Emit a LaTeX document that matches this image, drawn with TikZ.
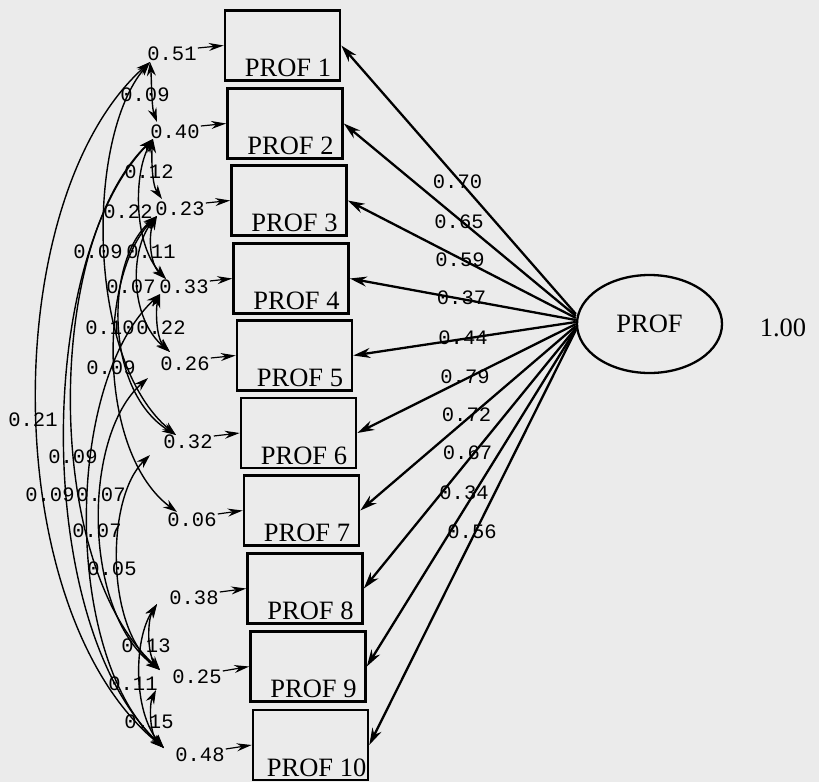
\documentclass[tikz,border=0pt]{standalone}
\usepackage{fontspec}
\setmainfont{Liberation Serif}
\newfontfamily\numfont{Liberation Mono}
\usetikzlibrary{arrows.meta,shapes.geometric}
\begin{document}
\begin{tikzpicture}[x=1pt,y=-1pt,
  box/.style={draw, line width=2.6pt, minimum width=115pt, minimum height=70pt, inner sep=0pt},
  boxtext/.style={font=\fontsize{26.5}{30}\selectfont, inner sep=0pt, anchor=base west},
  bigtext/.style={font=\fontsize{26.5}{30}\selectfont, inner sep=0pt},
  num/.style={font=\numfont\fontsize{20.5}{24}\selectfont, inner sep=1pt},
  load/.style={line width=2.3pt, -{Stealth[length=17pt,width=10pt]}},
  err/.style={line width=1.2pt, -{Stealth[length=15pt,width=8pt]}},
  cov/.style={line width=1.4pt, {Stealth[length=14pt,width=9pt]}-{Stealth[length=14pt,width=9pt]}},
]
\useasboundingbox (0,0) rectangle (819,782);
\fill[black!8] (0,0) rectangle (819,782);

% observed variables
\node[box] (p1)  at (282.5,45.5) {};
\node[box] (p2)  at (285,123.5) {};
\node[box] (p3)  at (289,200.5) {};
\node[box] (p4)  at (291,278.5) {};
\node[box] (p5)  at (294.5,355.5) {};
\node[box] (p6)  at (298.5,433) {};
\node[box] (p7)  at (301.5,510.5) {};
\node[box] (p8)  at (305,588.5) {};
\node[box] (p9)  at (308,666.5) {};
\node[box] (p10) at (310.5,745) {};
\node[boxtext] (t1)  at ([xshift=21pt,yshift=5pt]p1.south west) {PROF 1};
\node[boxtext] (t2)  at ([xshift=21pt,yshift=5pt]p2.south west) {PROF 2};
\node[boxtext] (t3)  at ([xshift=21pt,yshift=5pt]p3.south west) {PROF 3};
\node[boxtext] (t4)  at ([xshift=21pt,yshift=5pt]p4.south west) {PROF 4};
\node[boxtext] (t5)  at ([xshift=21pt,yshift=5pt]p5.south west) {PROF 5};
\node[boxtext] (t6)  at ([xshift=21pt,yshift=5pt]p6.south west) {PROF 6};
\node[boxtext] (t7)  at ([xshift=21pt,yshift=5pt]p7.south west) {PROF 7};
\node[boxtext] (t8)  at ([xshift=21pt,yshift=5pt]p8.south west) {PROF 8};
\node[boxtext] (t9)  at ([xshift=21pt,yshift=5pt]p9.south west) {PROF 9};
\node[boxtext] (t10) at ([xshift=15pt,yshift=5pt]p10.south west) {PROF 10};

% latent variable
\node[draw, ellipse, line width=2.3pt, minimum width=145pt, minimum height=98pt, inner sep=0pt,
      font=\fontsize{26.5}{30}\selectfont] (prof) at (649.5,324) {PROF};
\node[bigtext] (var) at (783,328) {1.00};

% loadings
\draw[load] ([yshift=10pt]prof.west) -- (p1.east);
\draw[load] ([yshift=8pt]prof.west) -- (p2.east);
\draw[load] ([yshift=6pt]prof.west) -- (p3.east);
\draw[load] ([yshift=4pt]prof.west) -- (p4.east);
\draw[load] ([yshift=2pt]prof.west) -- (p5.east);
\draw[load] ([yshift=0pt]prof.west) -- (p6.east);
\draw[load] ([yshift=-2pt]prof.west) -- (p7.east);
\draw[load] ([yshift=-4pt]prof.west) -- (p8.east);
\draw[load] ([yshift=-5pt]prof.west) -- (p9.east);
\draw[load] ([yshift=-6pt]prof.west) -- (p10.east);
\node[num] (l1)  at (457.5,182) {0.70};
\node[num] (l2)  at (459,222) {0.65};
\node[num] (l3)  at (460,260) {0.59};
\node[num] (l4)  at (461.5,298) {0.37};
\node[num] (l5)  at (463,338) {0.44};
\node[num] (l6)  at (465,377) {0.79};
\node[num] (l7)  at (466.5,415) {0.72};
\node[num] (l8)  at (467.5,453) {0.67};
\node[num] (l9)  at (464,493) {0.34};
\node[num] (l10) at (472,532) {0.56};

% error variances
\node[num] (v1)  at (172,54) {0.51};
\node[num] (v2)  at (175,132) {0.40};
\node[num] (v3)  at (180,209) {0.23};
\node[num] (v4)  at (184,287) {0.33};
\node[num] (v5)  at (185,364) {0.26};
\node[num] (v6)  at (188,442) {0.32};
\node[num] (v7)  at (192,520) {0.06};
\node[num] (v8)  at (194,598) {0.38};
\node[num] (v9)  at (197,677) {0.25};
\node[num] (v10) at (200,755) {0.48};
\draw[err] ([yshift=6pt]v1.east) -- (p1.west);
\draw[err] ([yshift=6pt]v2.east) -- (p2.west);
\draw[err] ([yshift=6pt]v3.east) -- (p3.west);
\draw[err] ([yshift=6pt]v4.east) -- (p4.west);
\draw[err] ([yshift=6pt]v5.east) -- (p5.west);
\draw[err] ([yshift=6pt]v6.east) -- (p6.west);
\draw[err] ([yshift=6pt]v7.east) -- (p7.west);
\draw[err] ([yshift=6pt]v8.east) -- (p8.west);
\draw[err] ([yshift=6pt]v9.east) -- (p9.west);
\draw[err] ([yshift=6pt]v10.east) -- (p10.west);

% error covariance end points
\coordinate (e1b) at (150,62);
\coordinate (e2t) at (157,122);
\coordinate (e2b) at (153,139);
\coordinate (e3t) at (162,199);
\coordinate (e3b) at (157,216);
\coordinate (e4t) at (166,279);
\coordinate (e4b) at (160,294);
\coordinate (e5t) at (170,352);
\coordinate (e5b) at (148,378);
\coordinate (e6t) at (176,435);
\coordinate (e6b) at (150,455);
\coordinate (e7t) at (177,512);
\coordinate (e8b) at (157,604);
\coordinate (e9t) at (160,670);
\coordinate (e9b) at (156,690);
\coordinate (e10t) at (164,748);

% error covariances
\draw[cov] (e1b) .. controls (151.5,77) and (151.5,107) .. (e2t);
\draw[cov] (e2b) .. controls (151.5,154) and (151.5,184) .. (e3t);
\draw[cov] (e3b) .. controls (148.8,232) and (148.8,263) .. (e4t);
\draw[cov] (e4b) .. controls (155.7,308) and (155.7,338) .. (e5t);
\draw[cov] (e2b) .. controls (133.5,174) and (133.5,244) .. (e4t);
\draw[cov] (e3b) .. controls (129.5,250) and (129.5,318) .. (e5t);
\draw[cov] (e3b) .. controls (104.5,260) and (104.5,391) .. (e6t);
\draw[cov] (e1b) .. controls (85.7,137) and (85.7,360) .. (e6t);
\draw[cov] (e3b) .. controls (97.7,275) and (97.7,453) .. (e7t);
\draw[cov] (e1b) .. controls (-3,199) and (-3,611) .. (e10t);
\draw[cov] (e2b) .. controls (43.8,245) and (43.8,564) .. (e9t);
\draw[cov] (e2b) .. controls (33.8,261) and (33.8,626) .. (e10t);
\draw[cov] (e4b) .. controls (63.3,385) and (63.3,657) .. (e10t);
\draw[cov] (e5b) .. controls (82,436) and (82,612) .. (e9t);
\draw[cov] (e6b) .. controls (105.7,498) and (105.7,627) .. (e9t);
\draw[cov] (e8b) .. controls (133.2,640) and (133.2,712) .. (e10t);
\draw[cov] (e8b) .. controls (147.2,620) and (147.2,654) .. (e9t);
\draw[cov] (e9b) .. controls (149.3,704) and (149.3,734) .. (e10t);

% covariance labels
\node[num] (k1)  at (145,95) {0.09};
\node[num] (k2)  at (149,172) {0.12};
\node[num] (k3)  at (128,212) {0.22};
\node[num] (k4)  at (98,252) {0.09};
\node[num] (k5)  at (151,252) {0.11};
\node[num] (k6)  at (131,287) {0.07};
\node[num] (k7)  at (110,328) {0.10};
\node[num] (k8)  at (161,328) {0.22};
\node[num] (k9)  at (111,368) {0.09};
\node[num] (k10) at (33,420) {0.21};
\node[num] (k11) at (73,457) {0.09};
\node[num] (k12) at (50,495) {0.09};
\node[num] (k13) at (101,495) {0.07};
\node[num] (k14) at (97,531) {0.07};
\node[num] (k15) at (112,569) {0.05};
\node[num] (k16) at (146,646) {0.13};
\node[num] (k17) at (133,684) {0.11};
\node[num] (k18) at (149,722) {0.15};
\end{tikzpicture}
\end{document}
